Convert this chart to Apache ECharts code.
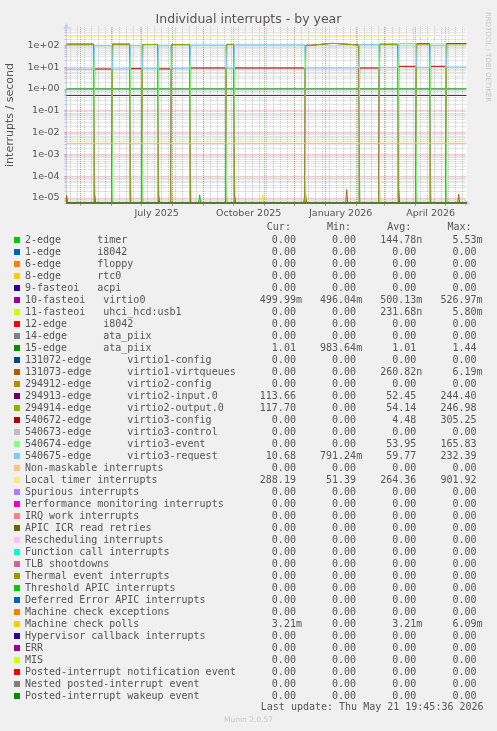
<!DOCTYPE html>
<html><head><meta charset="utf-8">
<script src="https://cdn.jsdelivr.net/npm/echarts@6/dist/echarts.min.js"></script>
<style>html,body{margin:0;padding:0;background:#F0F0F0;}#c{width:497px;height:731px;}</style>
</head><body><div id="c"></div>
<script>
// ---------------- data ----------------
const startTime = '2025-04-16 19:45';
const endTime = '2026-05-21 19:45';

// period boundaries (reboots / IRQ re-assignments)
const periodStarts = ['2025-04-16 19:45','2025-05-15','2025-06-02','2025-06-20','2025-07-02','2025-07-18',
  '2025-07-31','2025-08-19','2025-09-24','2025-10-02','2025-12-12','2025-12-18','2026-01-09','2026-02-04',
  '2026-02-24','2026-03-15','2026-04-02','2026-04-16','2026-05-02'];
const virtio2Input   = [114,0,114,0,109,0,108,0,110,0,101,123,104,0,113,0,118,0,121];
const virtio2Output  = [106,0,107,0,109,0,108,0,110,0,101,123,104,0,108,0,112,0,114];
const virtio3Config  = [0,8.2,0,8.5,0,8.3,0,9.1,0,9.1,0,0,0,9.1,0,10.9,0,10.9,0];
const virtio3Event   = [0,96,0,96,0,97,0,100,0,102,0,0,0,107,0,117,0,118,0];
const virtio3Request = [8,100,8.2,100,8.5,101,8.5,104,8.8,106,9.2,9.2,9.2,111,9.8,122,9.8,100,10.2];

const localTimerDates  = ['2025-04-16 19:45','2025-06-08','2025-06-10','2025-06-12','2025-07-14','2025-07-16','2025-07-18',
  '2025-09-05','2025-10-20','2025-12-10','2026-01-10','2026-02-10','2026-03-20','2026-05-21 19:45'];
const localTimerValues = [262,262,285,262,262,280,262,268,272,270,258,262,270,288];

const ataPiixLevel = 1.01;
const virtio0Level = 0.50;
const mcePollLevel = 3.21e-3;

const timerSpikeDates = ['2025-08-28','2025-12-11','2026-03-15'];
const timerSpikeValues = [1.4e-5,1.3e-5,2.2e-5];
const usbSpikeDates = ['2025-10-30'];
const usbSpikeValues = [1.4e-5];
const virtqSpikeDates = ['2025-04-17','2025-05-15','2025-07-18','2025-10-02','2025-12-12','2026-01-22','2026-05-14'];
const virtqSpikeValues = [1.3e-5,1.3e-5,1.2e-5,1.2e-5,1.3e-5,2.4e-5,1.5e-5];

const legendNames = ['2-edge      timer','1-edge      i8042','6-edge      floppy','8-edge      rtc0','9-fasteoi   acpi',
  '10-fasteoi   virtio0','11-fasteoi   uhci_hcd:usb1','12-edge      i8042','14-edge      ata_piix','15-edge      ata_piix',
  '131072-edge      virtio1-config','131073-edge      virtio1-virtqueues','294912-edge      virtio2-config',
  '294913-edge      virtio2-input.0','294914-edge      virtio2-output.0','540672-edge      virtio3-config',
  '540673-edge      virtio3-control','540674-edge      virtio3-event','540675-edge      virtio3-request',
  'Non-maskable interrupts','Local timer interrupts','Spurious interrupts','Performance monitoring interrupts',
  'IRQ work interrupts','APIC ICR read retries','Rescheduling interrupts','Function call interrupts','TLB shootdowns',
  'Thermal event interrupts','Threshold APIC interrupts','Deferred Error APIC interrupts','Machine check exceptions',
  'Machine check polls','Hypervisor callback interrupts','ERR','MIS','Posted-interrupt notification event',
  'Nested posted-interrupt event','Posted-interrupt wakeup event'];
const legendColors = ['#00CC00','#0066B3','#FF8000','#FFCC00','#330099','#990099','#CCFF00','#FF0000','#808080','#008F00',
  '#00487D','#B35A00','#B38F00','#6B006B','#8FB300','#B30000','#BEBEBE','#80FF80','#80C9FF','#FFC080','#FFE680',
  '#AA80FF','#EE00CC','#FF8080','#666600','#FFBFFF','#00FFCC','#CC6699','#999900','#00CC00','#0066B3','#FF8000',
  '#FFCC00','#330099','#990099','#CCFF00','#FF0000','#808080','#008F00'];
const curValues = [0,0,0,0,0,0.49999,0,0,0,1.01,0,0,0,113.66,117.70,0,0,0,10.68,0,288.19,0,0,0,0,0,0,0,0,0,0,0,3.21e-3,0,0,0,0,0,0];
const minValues = [0,0,0,0,0,0.49604,0,0,0,0.98364,0,0,0,0,0,0,0,0,0.79124,0,51.39,0,0,0,0,0,0,0,0,0,0,0,0,0,0,0,0,0,0];
const avgValues = [144.78e-9,0,0,0,0,0.50013,231.68e-9,0,0,1.01,0,260.82e-9,0,52.45,54.14,4.48,0,53.95,59.77,0,264.36,0,0,0,0,0,0,0,0,0,0,0,3.21e-3,0,0,0,0,0,0];
const maxValues = [5.53e-3,0,0,0,0,0.52697,5.80e-3,0,0,1.44,0,6.19e-3,0,244.40,246.98,305.25,0,165.83,232.39,0,901.92,0,0,0,0,0,0,0,0,0,0,0,6.09e-3,0,0,0,0,0,0];

const yTickValues = [1e-5,1e-4,1e-3,1e-2,1e-1,1,10,100];
const xTickLabelDates = ['2025-07-16','2025-10-16','2026-01-16','2026-04-16'];
const xTickLabels = ['July 2025','October 2025','January 2026','April 2026'];

// ---------------- helpers ----------------
const DAY = 86400000;
function ts(s) {
  const [d, t] = s.split(' ');
  const [y, m, dd] = d.split('-').map(Number);
  const [hh, mm] = (t || '0:0').split(':').map(Number);
  return new Date(y, m - 1, dd, hh, mm).getTime();
}
const T0 = ts(startTime), T1 = ts(endTime);
const Y_MIN = Math.pow(10, -5.23), Y_MAX = Math.pow(10, 2.84);

function stepData(levels) {
  const out = [];
  for (let i = 0; i < levels.length; i++) {
    const s = ts(periodStarts[i]);
    const e = i + 1 < periodStarts.length ? ts(periodStarts[i + 1]) - DAY : T1;
    out.push([s, levels[i]], [e, levels[i]]);
  }
  return out;
}
function spikeData(dates, vals) {
  const pts = [[T0, 0]];
  dates.forEach((d, i) => { const t = ts(d); pts.push([t - DAY, 0], [t, vals[i]], [t + DAY, 0]); });
  pts.push([T1, 0]);
  return pts.filter(p => p[0] >= T0 && p[0] <= T1).sort((a, b) => a[0] - b[0]);
}
const flat = v => [[T0, v], [T1, v]];

const seriesData = legendNames.map(() => flat(0));
seriesData[0] = spikeData(timerSpikeDates, timerSpikeValues);
seriesData[5] = flat(virtio0Level);
seriesData[6] = spikeData(usbSpikeDates, usbSpikeValues);
seriesData[9] = flat(ataPiixLevel);
seriesData[11] = spikeData(virtqSpikeDates, virtqSpikeValues);
seriesData[13] = stepData(virtio2Input);
seriesData[14] = stepData(virtio2Output);
seriesData[15] = stepData(virtio3Config);
seriesData[17] = stepData(virtio3Event);
seriesData[18] = stepData(virtio3Request);
seriesData[20] = localTimerDates.map((d, i) => [ts(d), localTimerValues[i]]);
seriesData[32] = flat(mcePollLevel);

function fmt(v) {
  if (v === 0) return '0.00 ';
  const pre = [[1e9, 'G'], [1e6, 'M'], [1e3, 'k'], [1, ' '], [1e-3, 'm'], [1e-6, 'u'], [1e-9, 'n']];
  for (const [f, p] of pre) if (Math.abs(v) >= f) return (v / f).toFixed(2) + p;
  return (v / 1e-9).toFixed(2) + 'n';
}
const legendLines = {};
legendNames.forEach((n, i) => {
  legendLines[n] = n.padEnd(36) + fmt(curValues[i]).padStart(10) + fmt(minValues[i]).padStart(10) +
    fmt(avgValues[i]).padStart(10) + fmt(maxValues[i]).padStart(10);
});

const monthStarts = [];
for (let d = new Date(2025, 4, 1); d.getTime() <= T1; d.setMonth(d.getMonth() + 1)) monthStarts.push(d.getTime());
const weekStarts = [];
for (let t = new Date(2025, 3, 21).getTime(); t <= T1; t += 7 * DAY) weekStarts.push(t);
const yMinorTicks = [];
for (let k = -6; k <= 2; k++) for (let m = 2; m <= 9; m++) { const v = m * Math.pow(10, k); if (v > Y_MIN && v < Y_MAX) yMinorTicks.push(v); }
const xLabelTs = xTickLabelDates.map(ts);

const FONT = '#555555';
const MGRID = 'rgba(200,70,70,0.55)';
const GRID = 'rgba(140,140,140,0.45)';
const AXIS = '#C8D0F0';

const chart = echarts.init(document.getElementById('c'), null, {renderer: 'canvas'});
chart.setOption({
  animation: false,
  backgroundColor: '#F0F0F0',
  title: {
    text: 'Individual interrupts - by year', left: 'center', top: 13, padding: 0,
    textStyle: {fontFamily: 'DejaVu Sans', fontSize: 12.5, fontWeight: 'normal', color: FONT}
  },
  grid: {left: 66.5, top: 27, width: 400, height: 176, show: true, backgroundColor: '#FFFFFF', borderWidth: 0,
    containLabel: false, outerBoundsMode: 'none'},
  xAxis: [{
    type: 'value', min: T0, max: T1, scale: true,
    axisLine: {show: true, lineStyle: {color: AXIS}, symbol: ['none', 'arrow'], symbolSize: [5, 6], symbolOffset: [0, 4]},
    axisTick: {show: true, customValues: monthStarts, length: 3, lineStyle: {color: MGRID}},
    axisLabel: {customValues: xLabelTs, margin: 5.5, fontFamily: 'DejaVu Sans', fontSize: 9.5, color: FONT,
      formatter: v => { const i = xLabelTs.findIndex(t => Math.abs(t - v) < 1000); return i >= 0 ? xTickLabels[i] : ''; }},
    splitLine: {show: true, lineStyle: {color: MGRID, type: [1, 1], width: 1}}
  }, {
    type: 'value', min: T0, max: T1, scale: true, position: 'bottom',
    axisLine: {show: false}, axisLabel: {show: false},
    axisTick: {show: false, customValues: weekStarts},
    splitLine: {show: true, lineStyle: {color: GRID, type: [1, 1], width: 1}}
  }],
  yAxis: [{
    type: 'log', logBase: 10, min: Y_MIN, max: Y_MAX,
    name: 'interrupts / second', nameLocation: 'middle', nameGap: 51,
    nameTextStyle: {fontFamily: 'DejaVu Sans', fontSize: 11, color: FONT},
    axisLine: {show: true, lineStyle: {color: AXIS}, symbol: ['none', 'arrow'], symbolSize: [5, 6], symbolOffset: [0, 4]},
    axisTick: {show: true, customValues: yTickValues, length: 2, lineStyle: {color: MGRID}},
    axisLabel: {customValues: yTickValues, margin: 7, fontFamily: 'DejaVu Sans', fontSize: 9.5, color: FONT,
      formatter: v => { const e = Math.round(Math.log10(v)); return '1e' + (e < 0 ? '-' : '+') + String(Math.abs(e)).padStart(2, '0'); }},
    splitLine: {show: true, lineStyle: {color: MGRID, type: [1, 1], width: 1}}
  }, {
    type: 'log', logBase: 10, min: Y_MIN, max: Y_MAX, position: 'left',
    axisLine: {show: false}, axisLabel: {show: false},
    axisTick: {show: true, customValues: yMinorTicks, length: 2, lineStyle: {color: GRID}},
    splitLine: {show: true, lineStyle: {color: GRID, type: [1, 1], width: 1}}
  }],
  legend: {
    orient: 'vertical', left: 14, top: 234, padding: 0, itemWidth: 6, itemHeight: 6, itemGap: 0, icon: 'rect',
    selectedMode: false, data: legendNames,
    textStyle: {fontFamily: 'DejaVu Sans Mono', fontSize: 10, color: FONT, lineHeight: 12},
    formatter: n => legendLines[n]
  },
  graphic: [
    {type: 'text', left: 26, top: 222, silent: true,
      style: {text: ' '.repeat(40) + 'Cur:' + ' '.repeat(6) + 'Min:' + ' '.repeat(6) + 'Avg:' + ' '.repeat(6) + 'Max:',
        font: '10px "DejaVu Sans Mono"', fill: FONT}},
    {type: 'text', left: 26, top: 702.5, silent: true,
      style: {text: ' '.repeat(39) + 'Last update: Thu May 21 19:45:36 2026', font: '10px "DejaVu Sans Mono"', fill: FONT}},
    {type: 'text', x: 248.5, y: 720, silent: true,
      style: {text: 'Munin 2.0.57', font: '7.5px "DejaVu Sans"', fill: '#C8C8C8', align: 'center', verticalAlign: 'middle'}},
    {type: 'text', x: 488, y: 57, rotation: -Math.PI / 2, silent: true,
      style: {text: 'RRDTOOL / TOBI OETIKER', font: '7px "DejaVu Sans"', fill: '#C8C8C8', align: 'center', verticalAlign: 'middle'}}
  ],
  series: legendNames.map((n, i) => ({
    name: n, type: 'line', color: legendColors[i], xAxisIndex: 0, yAxisIndex: 0,
    showSymbol: false, silent: true, emphasis: {disabled: true},
    lineStyle: {width: 1, color: legendColors[i]},
    data: seriesData[i].map(([t, v]) => [t, v <= 0 ? Y_MIN : v])
  }))
});
</script></body></html>
